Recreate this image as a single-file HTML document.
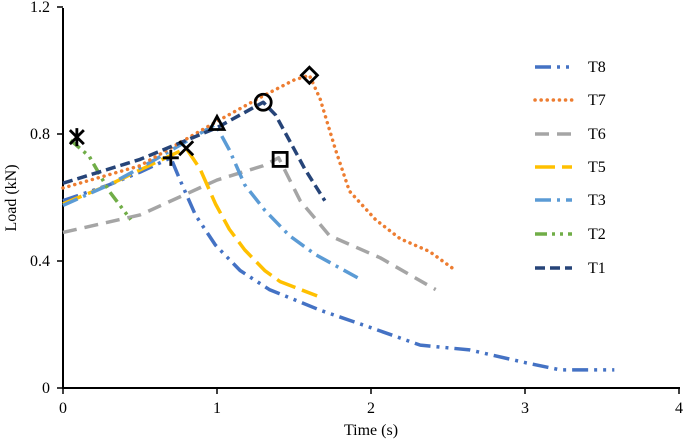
<!DOCTYPE html>
<html><head><meta charset="utf-8"><style>
body{margin:0;background:#fff}
svg{display:block;font-family:"Liberation Serif","Times New Roman",serif}
</style></head><body>
<svg id="chart" width="685" height="441"></svg>
<script>
const seriesNames=["T8","T7","T6","T5","T3","T2","T1"];
const t8x=[0,0.3,0.5,0.7,0.76,0.86,0.99,1.15,1.34,1.67,2,2.32,2.64,3,3.23,3.58];
const t8y=[0.59,0.64,0.68,0.725,0.655,0.545,0.45,0.37,0.31,0.245,0.19,0.135,0.12,0.08,0.057,0.057];
const t7x=[0,0.5,1,1.3,1.5,1.6,1.67,1.77,1.86,2.03,2.19,2.38,2.55];
const t7y=[0.63,0.7,0.84,0.92,0.97,0.985,0.91,0.75,0.62,0.53,0.47,0.43,0.37];
const t6x=[0,0.5,1,1.3,1.4,1.54,1.73,2.06,2.42];
const t6y=[0.49,0.545,0.655,0.7,0.725,0.59,0.48,0.41,0.31];
const t5x=[0,0.3,0.6,0.8,0.89,0.99,1.08,1.18,1.31,1.41,1.65];
const t5y=[0.58,0.64,0.71,0.755,0.69,0.58,0.5,0.435,0.37,0.335,0.29];
const t3x=[0,0.3,0.6,0.99,1.08,1.18,1.31,1.47,1.64,1.94];
const t3y=[0.575,0.64,0.72,0.83,0.75,0.64,0.56,0.48,0.42,0.34];
const t2x=[0.05,0.17,0.3,0.44];
const t2y=[0.78,0.73,0.62,0.53];
const t1x=[0,0.5,1,1.3,1.38,1.47,1.57,1.7];
const t1y=[0.645,0.72,0.82,0.9,0.86,0.78,0.69,0.59];
const xTicks=[0,1,2,3,4];
const yTicks=[0,0.4,0.8,1.2];
const X=v=>63+v*154, Y=v=>388-v*317.5;
const NS="http://www.w3.org/2000/svg";
const svg=document.getElementById('chart');
function mk(tag,attrs,parent){const e=document.createElementNS(NS,tag);for(const k in attrs)e.setAttribute(k,attrs[k]);(parent||svg).appendChild(e);return e;}
const styles=[
 {c:"#4472C4",d:"16 6 3 6 3 6",xs:t8x,ys:t8y},
 {c:"#ED7D31",d:"0.1 6",xs:t7x,ys:t7y},
 {c:"#A5A5A5",d:"14 8",xs:t6x,ys:t6y},
 {c:"#FFC000",d:"20 7",xs:t5x,ys:t5y},
 {c:"#5B9BD5",d:"16 6 3 6",xs:t3x,ys:t3y},
 {c:"#70AD47",d:"12 5 3 5 3 5",xs:t2x,ys:t2y},
 {c:"#264478",d:"10 5",xs:t1x,ys:t1y}];
let ax=mk('line',{x1:63,y1:8,x2:63,y2:389,stroke:"#000","stroke-width":2});


ax=mk('line',{x1:62,y1:388,x2:680,y2:388,stroke:"#000","stroke-width":2});


yTicks.forEach(v=>{
 const tk=mk('line',{x1:57,y1:Y(v),x2:63,y2:Y(v),stroke:"#000","stroke-width":1.5});
 
 
 const t=mk('text',{x:50,y:Y(v)+5,"text-anchor":"end","font-size":16});
 t.textContent=v===0?"0":v.toFixed(1);
 
 
});
xTicks.forEach(v=>{
 const tk=mk('line',{x1:X(v),y1:388,x2:X(v),y2:394,stroke:"#000","stroke-width":1.5});
 
 
 const t=mk('text',{x:X(v),y:413,"text-anchor":"middle","font-size":16});
 t.textContent=String(v);
 
 
});
let tt=mk('text',{x:371,y:435,"text-anchor":"middle","font-size":16});
tt.textContent="Time (s)";


tt=mk('text',{x:0,y:0,"text-anchor":"middle","font-size":16,transform:"translate(16,198) rotate(-90)"});
tt.textContent="Load (kN)";


const order=[2,0,3,4,5,1,6];
order.forEach(i=>{
 const s=styles[i];
 const pts=s.xs.map((x,j)=>X(x)+","+Y(s.ys[j])).join(" ");
 const p=mk('polyline',{points:pts,fill:"none",stroke:s.c,"stroke-width":3.5,"stroke-dasharray":s.d,"stroke-linecap":i===1?"round":"butt","stroke-linejoin":"round"});
 
 
});
const g=mk('g',{stroke:"#000","stroke-width":2.8,fill:"none"});


function m(x,y){return [X(x),Y(y)];}
let [a,b]=m(0.09,0.79);
mk('path',{d:`M${a-7},${b-7}L${a+7},${b+7}M${a+7},${b-7}L${a-7},${b+7}M${a},${b-9}L${a},${b+9}`},g);
[a,b]=m(0.7,0.725);
mk('path',{d:`M${a-8},${b}L${a+8},${b}M${a},${b-8}L${a},${b+8}`},g);
[a,b]=m(0.8,0.755);
mk('path',{d:`M${a-7},${b-7}L${a+7},${b+7}M${a+7},${b-7}L${a-7},${b+7}`},g);
[a,b]=m(1.0,0.83);
mk('path',{d:`M${a},${b-8}L${a+7},${b+5}L${a-7},${b+5}Z`},g);
[a,b]=m(1.3,0.9);
mk('circle',{cx:a,cy:b,r:8},g);
[a,b]=m(1.41,0.72);
mk('rect',{x:a-7,y:b-7,width:14,height:14},g);
[a,b]=m(1.6,0.985);
mk('path',{d:`M${a},${b-8}L${a+8},${b}L${a},${b+8}L${a-8},${b}Z`},g);
const ly=[67,100,134,167,200,234,268];
seriesNames.forEach((n,i)=>{
 const s=styles[i];
 const l=mk('line',{x1:535,y1:ly[i],x2:572,y2:ly[i],stroke:s.c,"stroke-width":3.5,"stroke-dasharray":s.d,"stroke-linecap":i===1?"round":"butt"});
 
 
 const t=mk('text',{x:588,y:ly[i]+5,"font-size":16});
 t.textContent=n;
 
 
});
</script>
</body></html>
